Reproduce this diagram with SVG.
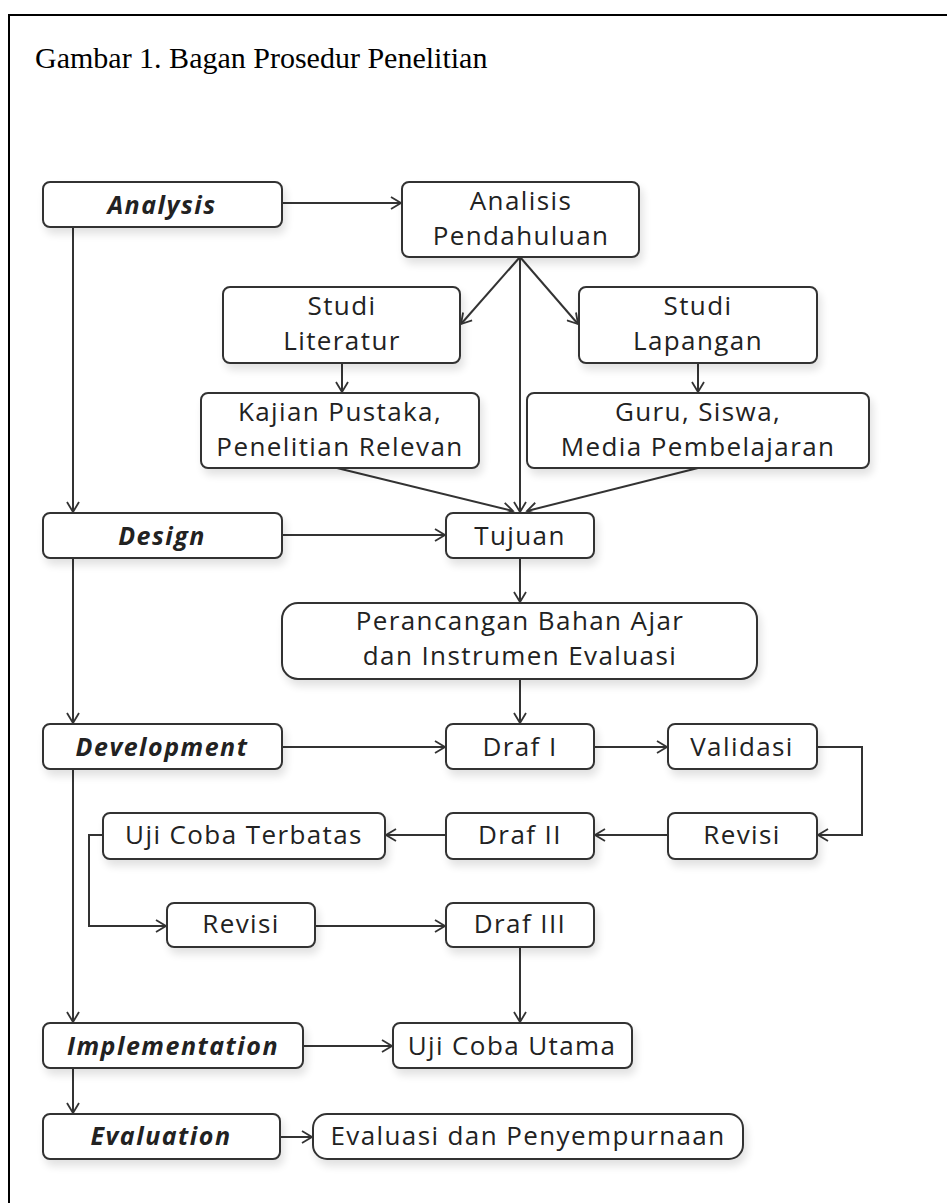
<svg xmlns="http://www.w3.org/2000/svg" width="947" height="1203" viewBox="0 0 947 1203">
<style>
.box{fill:#fff;stroke:#333;stroke-width:2;filter:url(#sh)}
.t{font-family:"Open Sans","Noto Sans",sans-serif;font-size:26px;letter-spacing:1.4px;fill:#222;text-anchor:middle}
.ti{font-family:"Open Sans","Noto Sans",sans-serif;font-size:25px;letter-spacing:1.5px;font-weight:bold;font-style:italic;fill:#222;text-anchor:middle}
.c{fill:none;stroke:#333;stroke-width:2}
.a{marker-end:url(#ar)}
</style>
<defs>
<marker id="ar" markerWidth="14" markerHeight="14" refX="11" refY="7" orient="auto" markerUnits="userSpaceOnUse">
<path d="M1,1 L11,7 L1,13" fill="none" stroke="#333" stroke-width="1.8"/>
</marker>
<filter id="sh" x="-10%" y="-20%" width="130%" height="160%">
<feGaussianBlur in="SourceAlpha" stdDeviation="4"/>
<feOffset dx="3" dy="6" result="b"/>
<feComponentTransfer><feFuncA type="linear" slope="0.12"/></feComponentTransfer>
<feMerge><feMergeNode/><feMergeNode in="SourceGraphic"/></feMerge>
</filter>
</defs>
<rect width="947" height="1203" fill="#fff"/>
<path d="M9,1203 V15 H947" fill="none" stroke="#000" stroke-width="2"/>
<text x="35" y="68" font-family="Liberation Serif,serif" font-size="30" fill="#000">Gambar 1. Bagan Prosedur Penelitian</text>

<g id="connectors">
<path class="c a" d="M282,203 H401"/>
<path class="c a" d="M520,257 L461,324"/>
<path class="c a" d="M520,257 L578,324"/>
<path class="c a" d="M520,257 V512"/>
<path class="c a" d="M342,363 V392"/>
<path class="c a" d="M698,363 V392"/>
<path class="c a" d="M337,468 L513,511"/>
<path class="c a" d="M698,468 L527,511"/>
<path class="c a" d="M73,227 V512"/>
<path class="c a" d="M73,558 V723"/>
<path class="c a" d="M73,769 V1022"/>
<path class="c a" d="M73,1068 V1113"/>
<path class="c a" d="M282,535 H445"/>
<path class="c a" d="M520,558 V602"/>
<path class="c a" d="M520,679 V723"/>
<path class="c a" d="M282,747 H445"/>
<path class="c a" d="M594,747 H667"/>
<path class="c a" d="M817,747 H862 V835 H818"/>
<path class="c a" d="M668,835 H595"/>
<path class="c a" d="M446,835 H386"/>
<path class="c a" d="M103,835 H89 V926 H166"/>
<path class="c a" d="M315,926 H445"/>
<path class="c a" d="M520,947 V1022"/>
<path class="c a" d="M303,1046 H392"/>
<path class="c a" d="M280,1137 H312"/>
</g>

<g id="analysis"><rect class="box" x="43" y="182" width="239" height="45" rx="7"/><text class="ti" x="162" y="214">Analysis</text></g>
<g id="analisis-pendahuluan"><rect class="box" x="402" y="182" width="237" height="75" rx="7"/><text class="t" x="521" y="210">Analisis</text><text class="t" x="521" y="245">Pendahuluan</text></g>
<g id="studi-literatur"><rect class="box" x="223" y="287" width="237" height="76" rx="7"/><text class="t" x="342" y="315">Studi</text><text class="t" x="342" y="350">Literatur</text></g>
<g id="studi-lapangan"><rect class="box" x="579" y="287" width="238" height="76" rx="7"/><text class="t" x="698" y="315">Studi</text><text class="t" x="698" y="350">Lapangan</text></g>
<g id="kajian"><rect class="box" x="201" y="393" width="278" height="75" rx="7"/><text class="t" x="340" y="421">Kajian Pustaka,</text><text class="t" x="340" y="456">Penelitian Relevan</text></g>
<g id="guru"><rect class="box" x="527" y="393" width="342" height="75" rx="7"/><text class="t" x="698" y="421">Guru, Siswa,</text><text class="t" x="698" y="456">Media Pembelajaran</text></g>
<g id="design"><rect class="box" x="43" y="513" width="239" height="45" rx="7"/><text class="ti" x="162" y="545">Design</text></g>
<g id="tujuan"><rect class="box" x="446" y="513" width="148" height="45" rx="7"/><text class="t" x="520" y="545">Tujuan</text></g>
<g id="perancangan"><rect class="box" x="282" y="603" width="475" height="76" rx="16"/><text class="t" x="520" y="630">Perancangan Bahan Ajar</text><text class="t" x="520" y="665">dan Instrumen Evaluasi</text></g>
<g id="development"><rect class="box" x="43" y="724" width="239" height="45" rx="7"/><text class="ti" x="162" y="756">Development</text></g>
<g id="draf1"><rect class="box" x="446" y="724" width="148" height="45" rx="7"/><text class="t" x="520" y="756">Draf I</text></g>
<g id="validasi"><rect class="box" x="668" y="724" width="149" height="45" rx="7"/><text class="t" x="742" y="756">Validasi</text></g>
<g id="revisi1"><rect class="box" x="668" y="813" width="149" height="46" rx="7"/><text class="t" x="742" y="844">Revisi</text></g>
<g id="draf2"><rect class="box" x="446" y="813" width="148" height="46" rx="7"/><text class="t" x="520" y="844">Draf II</text></g>
<g id="uji-terbatas"><rect class="box" x="103" y="813" width="282" height="46" rx="7"/><text class="t" x="244" y="844">Uji Coba Terbatas</text></g>
<g id="revisi2"><rect class="box" x="167" y="903" width="148" height="44" rx="7"/><text class="t" x="241" y="933">Revisi</text></g>
<g id="draf3"><rect class="box" x="446" y="903" width="148" height="44" rx="7"/><text class="t" x="520" y="933">Draf III</text></g>
<g id="implementation"><rect class="box" x="43" y="1023" width="260" height="45" rx="7"/><text class="ti" x="173" y="1055">Implementation</text></g>
<g id="uji-utama"><rect class="box" x="393" y="1023" width="239" height="45" rx="7"/><text class="t" x="512" y="1055">Uji Coba Utama</text></g>
<g id="evaluation"><rect class="box" x="43" y="1114" width="237" height="45" rx="7"/><text class="ti" x="161" y="1145">Evaluation</text></g>
<g id="evaluasi"><rect class="box" x="313" y="1114" width="430" height="45" rx="14"/><text class="t" x="528" y="1145">Evaluasi dan Penyempurnaan</text></g>
</svg>
